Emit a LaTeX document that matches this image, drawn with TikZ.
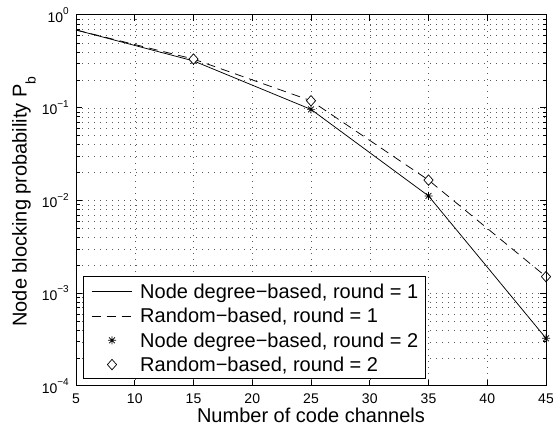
\documentclass[tikz,border=0pt]{standalone}
\usepackage{fontspec}
\setmainfont{Liberation Sans}
\begin{document}
\begin{tikzpicture}[x=1pt,y=1pt,
  gridline/.style={black!65,line width=0.45pt,dash pattern=on 0.9pt off 5.1pt},
  frameline/.style={black,line width=1pt},
  tickline/.style={black,line width=0.6pt},
  solidcurve/.style={black,line width=0.75pt},
  dashcurve/.style={black,line width=0.75pt,dash pattern=on 9pt off 6pt},
  ticklab/.style={inner sep=0pt,font=\fontsize{14}{14}\selectfont},
  biglab/.style={inner sep=0pt,font=\fontsize{20}{20}\selectfont},
  asterisk/.pic={\draw[black,line width=0.7pt] (-4pt,0pt)--(4pt,0pt) (0pt,-4pt)--(0pt,4pt) (-2.9pt,-2.9pt)--(2.9pt,2.9pt) (-2.9pt,2.9pt)--(2.9pt,-2.9pt);},
  diamondmark/.pic={\draw[black,line width=0.7pt,fill=white] (-4.6pt,0pt)--(0pt,5.2pt)--(4.6pt,0pt)--(0pt,-5.2pt)--cycle;}
]
\useasboundingbox (0,0) rectangle (553,430);
\fill[white] (0,0) rectangle (553,430);
\begin{scope}[shift={(17.25pt,415pt)}, x=11.75pt, y=92.75pt]
  % grid
  \foreach \v in {10,15,...,40} \draw[gridline] (\v,-4) -- (\v,0);
  \foreach \d in {-4,...,-1} {
    \foreach \k in {2,...,9} {
      \pgfmathsetmacro\yy{\d+log10(\k)}
      \draw[gridline] (5,\yy) -- (45,\yy);
    }
  }
  \foreach \d in {-3,...,-1} \draw[gridline] (5,\d) -- (45,\d);
  % curves
  \draw[solidcurve] (5,-0.1618) -- (15,-0.4949) -- (25,-1.0177) -- (35,-1.9508) -- (45,-3.4855);
  \draw[dashcurve] (5,-0.1618) -- (15,-0.4750) -- (25,-0.9245) -- (35,-1.7799) -- (45,-2.8210);
  % markers
  \foreach \px/\py in {15/-0.4949,25/-1.0177,35/-1.9508,45/-3.4855} \pic at (\px,\py) {asterisk};
  \foreach \px/\py in {15/-0.4750,25/-0.9245,35/-1.7799,45/-2.8210} \pic at (\px,\py) {diamondmark};
  % ticks
  \foreach \v in {10,15,...,40} {
    \draw[tickline] (\v,-4) -- ++(0pt,6pt);
    \draw[tickline] (\v,0) -- ++(0pt,-6pt);
  }
  \foreach \d in {-3,...,-1} {
    \draw[tickline] (5,\d) -- ++(6pt,0pt);
    \draw[tickline] (45,\d) -- ++(-6pt,0pt);
  }
  \foreach \d in {-4,...,-1} {
    \foreach \k in {2,...,9} {
      \pgfmathsetmacro\yy{\d+log10(\k)}
      \draw[tickline] (5,\yy) -- ++(3.5pt,0pt);
      \draw[tickline] (45,\yy) -- ++(-3.5pt,0pt);
    }
  }
  % frame
  \draw[frameline] (5,-4) rectangle (45,0);
  % tick labels
  \foreach \v in {5,10,...,45} \node[ticklab,anchor=base] (xt\v) at ([yshift=-17.5pt]\v,-4) {\v};
  \node[ticklab,anchor=east] (yt0) at ([xshift=-7pt]5,0) {10\raisebox{1.0ex}{\fontsize{10}{10}\selectfont 0}};
  \node[ticklab,anchor=east] (yt1) at ([xshift=-7pt]5,-1) {10\raisebox{1.0ex}{\fontsize{10}{10}\selectfont −1}};
  \node[ticklab,anchor=east] (yt2) at ([xshift=-7pt]5,-2) {10\raisebox{1.0ex}{\fontsize{10}{10}\selectfont −2}};
  \node[ticklab,anchor=east] (yt3) at ([xshift=-7pt]5,-3) {10\raisebox{1.0ex}{\fontsize{10}{10}\selectfont −3}};
  \node[ticklab,anchor=east] (yt4) at ([xshift=-7pt]5,-4) {10\raisebox{1.0ex}{\fontsize{10}{10}\selectfont −4}};
\end{scope}
% legend
\draw[frameline,fill=white] (83,51) rectangle (425,153);
\coordinate (l1a) at (91.5,138.3); \coordinate (l1b) at (131.5,138.3);
\coordinate (l2a) at (91.5,114.0); \coordinate (l2b) at (131.5,114.0);
\draw[solidcurve] (l1a) -- (l1b);
\draw[dashcurve] (l2a) -- (l2b);
\pic at (112,89.7) {asterisk};
\pic at (112,65.4) {diamondmark};
\node[biglab,anchor=base west] (t1) at (140,131.3) {Node degree−based, round = 1};
\node[biglab,anchor=base west] (t2) at (140,107.0) {Random−based, round = 1};
\node[biglab,anchor=base west] (t3) at (140,82.7) {Node degree−based, round = 2};
\node[biglab,anchor=base west] (t4) at (140,58.4) {Random−based, round = 2};
% axis labels
\node[biglab,anchor=base] (xlab) at (311,7) {Number of code channels};
\node[biglab,anchor=base,rotate=90] (ylab) at (26.5,228.5) {Node blocking probability P\raisebox{-0.45em}{\fontsize{14}{14}\selectfont b}};
\end{tikzpicture}
\end{document}
